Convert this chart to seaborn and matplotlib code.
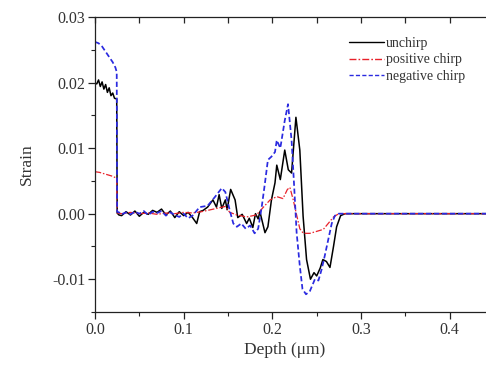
import numpy as np
import pandas as pd
import matplotlib
matplotlib.use("Agg")
import matplotlib.pyplot as plt
from matplotlib.ticker import MultipleLocator
import seaborn as sns

# ---- data ----
unchirp_x = [0.0, 0.002, 0.004, 0.006, 0.008, 0.010, 0.012, 0.014, 0.016, 0.018, 0.020, 0.022, 0.0245,
             0.0250, 0.027, 0.030, 0.035, 0.040, 0.045, 0.050, 0.055, 0.060, 0.065, 0.070, 0.075,
             0.080, 0.085, 0.090, 0.095, 0.100, 0.105, 0.110, 0.1147, 0.118, 0.122, 0.127, 0.133,
             0.137, 0.140, 0.143, 0.147, 0.149, 0.153, 0.158, 0.161, 0.166, 0.171, 0.174, 0.178,
             0.181, 0.184, 0.186, 0.1917, 0.195, 0.199, 0.203, 0.205, 0.209, 0.214, 0.218, 0.2217,
             0.2266, 0.231, 0.2347, 0.2386, 0.243, 0.247, 0.250, 0.254, 0.257, 0.261, 0.265, 0.269,
             0.2725, 0.277, 0.282, 0.300, 0.450]
unchirp_y = [0.0199, 0.0198, 0.0204, 0.0194, 0.0201, 0.0190, 0.0197, 0.0185, 0.0192, 0.0180, 0.0184, 0.0176, 0.0175,
             0.0001, -0.0002, -0.0003, 0.0003, -0.0002, 0.0004, -0.0004, 0.0002, -0.0001, 0.0005, 0.0002, 0.0007,
             -0.0002, 0.0004, -0.0006, 0.0003, -0.0003, 0.0002, -0.0006, -0.0015, 0.0003, 0.0005, 0.0010, 0.0021,
             0.0010, 0.0029, 0.0008, 0.0021, 0.0006, 0.0037, 0.0021, -0.0006, -0.0001, -0.0015, -0.0007, -0.0021,
             0.0000, -0.0008, 0.0003, -0.0029, -0.0020, 0.0021, 0.0047, 0.0074, 0.0052, 0.0097, 0.0067, 0.0062,
             0.0147, 0.0097, -0.0004, -0.0070, -0.0100, -0.0090, -0.0095, -0.0083, -0.0070, -0.0073, -0.0082, -0.0050,
             -0.0020, -0.0003, 0.0000, 0.0000, 0.0000]

positive_x = [0.0, 0.005, 0.010, 0.015, 0.020, 0.0245, 0.0250, 0.030, 0.040, 0.050, 0.060, 0.070, 0.080,
              0.090, 0.100, 0.110, 0.120, 0.127, 0.137, 0.147, 0.152, 0.160, 0.171, 0.182, 0.190, 0.1975,
              0.205, 0.212, 0.217, 0.2198, 0.2236, 0.2274, 0.231, 0.235, 0.2424, 0.250, 0.2575, 0.263,
              0.269, 0.275, 0.450]
positive_y = [0.0064, 0.0063, 0.0061, 0.0059, 0.0057, 0.0054, 0.0001, 0.0000, 0.0002, 0.0000, 0.0001, -0.0001, 0.0001,
              0.0000, 0.0002, 0.0001, 0.0003, 0.0005, 0.0008, 0.0011, 0.0002, -0.0002, -0.0005, -0.0002, 0.0010, 0.0021,
              0.0026, 0.0023, 0.0037, 0.0040, 0.0021, -0.0002, -0.0023, -0.0030, -0.0030, -0.0027, -0.0024, -0.0015,
              -0.0005, 0.0000, 0.0000]

negative_x = [0.0, 0.004, 0.008, 0.012, 0.016, 0.020, 0.023, 0.0245, 0.0250, 0.027, 0.030, 0.035, 0.040,
              0.045, 0.050, 0.055, 0.060, 0.065, 0.070, 0.075, 0.080, 0.085, 0.090, 0.095, 0.100, 0.105,
              0.110, 0.118, 0.127, 0.135, 0.143, 0.147, 0.152, 0.156, 0.160, 0.165, 0.170, 0.175, 0.180,
              0.184, 0.188, 0.1917, 0.195, 0.199, 0.203, 0.205, 0.209, 0.214, 0.2177, 0.2217, 0.2244,
              0.2274, 0.231, 0.234, 0.238, 0.2424, 0.248, 0.252, 0.2556, 0.259, 0.263, 0.267, 0.2706,
              0.275, 0.450]
negative_y = [0.0262, 0.0260, 0.0255, 0.0247, 0.0239, 0.0231, 0.0223, 0.0216, 0.0003, 0.0002, -0.0001, 0.0002, -0.0001,
              0.0003, 0.0000, 0.0004, -0.0002, 0.0003, 0.0001, 0.0004, -0.0003, 0.0002, -0.0002, -0.0005, 0.0000, -0.0007,
              -0.0003, 0.0010, 0.0012, 0.0025, 0.0039, 0.0033, 0.0005, -0.0015, -0.0020, -0.0015, -0.0023, -0.0018, -0.0030,
              -0.0023, 0.0010, 0.0047, 0.0082, 0.0087, 0.0094, 0.0112, 0.0100, 0.0142, 0.0167, 0.0112, 0.0047,
              -0.0029, -0.0080, -0.0115, -0.0123, -0.0118, -0.0100, -0.0102, -0.0085, -0.0065, -0.0040, -0.0015, -0.0003,
              0.0000, 0.0000]

labels = ["unchirp", "positive chirp", "negative chirp"]
x_ticks = [0.0, 0.1, 0.2, 0.3, 0.4]
y_ticks = [-0.01, 0.00, 0.01, 0.02, 0.03]

df = pd.concat([
    pd.DataFrame({"Depth": unchirp_x, "Strain": unchirp_y, "series": labels[0]}),
    pd.DataFrame({"Depth": positive_x, "Strain": positive_y, "series": labels[1]}),
    pd.DataFrame({"Depth": negative_x, "Strain": negative_y, "series": labels[2]}),
], ignore_index=True)

sns.set_style("ticks")
plt.rcParams["font.family"] = ["Liberation Serif", "DejaVu Serif"]

W, H = 486, 374
fig = plt.figure(figsize=(W / 100, H / 100), dpi=100)
left, right, top, bottom = 95, 494, 17, 312
ax = fig.add_axes([left / W, (H - bottom) / H, (right - left) / W, (bottom - top) / H])

palette = {labels[0]: "#000000", labels[1]: "#e8212a", labels[2]: "#2a2ae0"}
dashes = {labels[0]: "", labels[1]: (5, 1.5, 1.2, 1.5), labels[2]: (3, 1.6)}
sns.lineplot(data=df, x="Depth", y="Strain", hue="series", style="series",
             palette=palette, dashes=dashes, sort=False, estimator=None,
             ax=ax, linewidth=1.0)
for line, lw in zip(ax.get_lines()[:3], [1.1, 0.9, 1.25]):
    line.set_linewidth(lw)

ax.set_xlim(0, 0.45)
ax.set_ylim(-0.015, 0.03)
ax.set_xticks(x_ticks)
ax.set_yticks(y_ticks)
ax.set_xticklabels([f"{v:.1f}" for v in x_ticks])
ax.set_yticklabels([f"{v:.2f}" for v in y_ticks])
ax.xaxis.set_minor_locator(MultipleLocator(0.05))
ax.yaxis.set_minor_locator(MultipleLocator(0.005))

for s in ax.spines.values():
    s.set_linewidth(0.9)
    s.set_color("#222222")
ax.tick_params(axis="both", which="major", direction="out", length=5, width=0.9,
               labelsize=11.5, colors="#222222", labelcolor="#333333", pad=2)
ax.tick_params(axis="both", which="minor", direction="out", length=3, width=0.8, colors="#222222")

# top ticks point inward
secx = ax.secondary_xaxis("top")
secx.set_xticks(x_ticks)
secx.xaxis.set_minor_locator(MultipleLocator(0.05))
secx.tick_params(axis="x", which="both", direction="in", length=4, width=0.9, labeltop=False)
secx.spines["top"].set_visible(False)
ax.tick_params(axis="x", which="both", top=False)

ax.set_xlabel("Depth (μm)", fontsize=12.5, color="#333333")
ax.xaxis.set_label_coords((285 - left) / (right - left), -0.10)
ax.set_ylabel("Strain", fontsize=12.5, color="#333333", labelpad=12)

leg = ax.legend(loc="upper left", bbox_to_anchor=(342 / W, 1 - 30 / H),
                bbox_transform=fig.transFigure, frameon=False, fontsize=10,
                handlelength=2.5, handletextpad=0.15, labelspacing=0.25, borderpad=0)
for t in leg.get_texts():
    t.set_color("#333333")

fig.savefig("out.png", dpi=100)
